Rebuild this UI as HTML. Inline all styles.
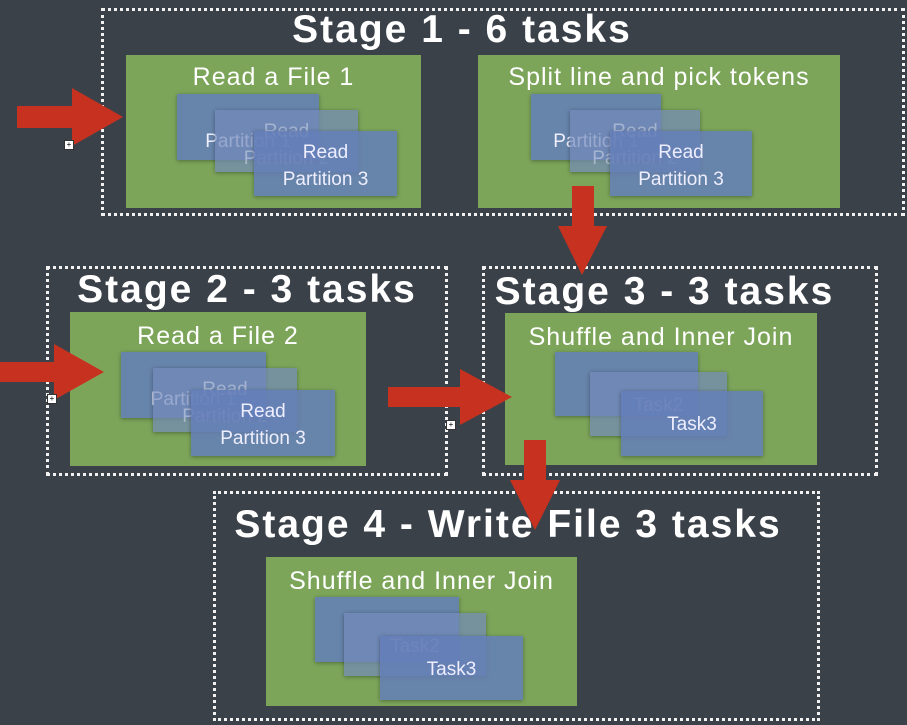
<!DOCTYPE html>
<html><head><meta charset="utf-8"><style>
html,body{margin:0;padding:0;}
body{width:907px;height:725px;overflow:hidden;background:#3b4149;position:relative;font-family:"Comic Sans MS","Liberation Sans",sans-serif;}
.abs{position:absolute;}
.stage{position:absolute;border:3px dotted #f2f2f2;box-sizing:border-box;}
.title{position:absolute;color:#fff;font-size:39px;font-weight:bold;text-align:center;white-space:nowrap;letter-spacing:2px;}
.panel{position:absolute;background:#7ca55a;}
.ptitle{position:absolute;left:0;right:0;text-align:center;color:#fff;font-size:25px;white-space:nowrap;letter-spacing:1px;}
.card{position:absolute;background:rgba(100,126,185,0.85);color:#eef;font-size:19px;text-align:center;box-shadow:0 1px 4px rgba(0,0,0,0.35);line-height:27px;box-sizing:border-box;padding-top:8px;}
.card.f{background:rgba(115,138,185,0.7);color:rgba(230,235,245,0.45);}
.plus{position:absolute;width:8px;height:8px;background:#fff;border:1px solid #333;font-size:8px;line-height:8px;text-align:center;color:#000;}
</style></head><body>
<div class="stage" style="left:101px;top:8px;width:804px;height:208px;"></div>
<div class="title" style="left:101px;width:722px;top:8px;">Stage 1 - 6 tasks</div>
<div class="panel" style="left:126px;top:55px;width:295px;height:153px;">
<div class="ptitle" style="top:8px;">Read a File 1</div>
<div class="card" style="left:51px;top:39px;width:142px;height:66px;padding-top:34px;">Partition 1</div>
<div class="card f" style="left:89px;top:55px;width:143px;height:62px;">Read<br>Partition 2</div>
<div class="card" style="left:128px;top:76px;width:143px;height:65px;">Read<br>Partition 3</div>
</div>
<div class="panel" style="left:478px;top:55px;width:362px;height:153px;">
<div class="ptitle" style="top:8px;">Split line and pick tokens</div>
<div class="card" style="left:53px;top:39px;width:130px;height:66px;padding-top:34px;">Partition 1</div>
<div class="card f" style="left:92px;top:55px;width:130px;height:62px;">Read<br>Partition 2</div>
<div class="card" style="left:132px;top:76px;width:142px;height:65px;">Read<br>Partition 3</div>
</div>

<div class="stage" style="left:46px;top:266px;width:402px;height:210px;"></div>
<div class="title" style="left:46px;width:402px;top:268px;">Stage 2 - 3 tasks</div>
<div class="panel" style="left:70px;top:312px;width:296px;height:154px;">
<div class="ptitle" style="top:10px;">Read a File 2</div>
<div class="card" style="left:51px;top:40px;width:145px;height:66px;padding-top:34px;">Partition 1</div>
<div class="card f" style="left:83px;top:56px;width:144px;height:64px;">Read<br>Partition 2</div>
<div class="card" style="left:121px;top:78px;width:144px;height:66px;">Read<br>Partition 3</div>
</div>

<div class="stage" style="left:482px;top:266px;width:396px;height:210px;"></div>
<div class="title" style="left:482px;width:365px;top:270px;">Stage 3 - 3 tasks</div>
<div class="panel" style="left:505px;top:313px;width:312px;height:152px;">
<div class="ptitle" style="top:10px;">Shuffle and Inner Join</div>
<div class="card" style="left:50px;top:39px;width:143px;height:64px;"></div>
<div class="card f" style="left:85px;top:59px;width:137px;height:64px;padding-top:20px;">Task2</div>
<div class="card" style="left:116px;top:78px;width:142px;height:65px;padding-top:20px;">Task3</div>
</div>

<div class="stage" style="left:213px;top:491px;width:607px;height:230px;"></div>
<div class="title" style="left:213px;width:590px;top:503px;">Stage 4 - Write File 3 tasks</div>
<div class="panel" style="left:266px;top:557px;width:311px;height:149px;">
<div class="ptitle" style="top:10px;">Shuffle and Inner Join</div>
<div class="card" style="left:49px;top:40px;width:144px;height:65px;"></div>
<div class="card f" style="left:78px;top:56px;width:142px;height:63px;padding-top:20px;">Task2</div>
<div class="card" style="left:114px;top:79px;width:143px;height:64px;padding-top:20px;">Task3</div>
</div>

<svg class="abs" style="left:0;top:0" width="907" height="725">
<g fill="#c6321f">
<polygon points="17,106 72,106 72,88 123,117 72,146 72,128 17,128"/>
<polygon points="572,186 594,186 594,226 607,226 582,275 558,226 572,226"/>
<polygon points="0,362 54,362 54,344 104,372 54,400 54,382 0,382"/>
<polygon points="388,387 460,387 460,369 512,397 460,425 460,407 388,407"/>
<polygon points="524,440 546,440 546,480 560,480 535,530 510,480 524,480"/>
</g>
</svg>
<div class="plus" style="left:64px;top:140px;">+</div>
<div class="plus" style="left:47px;top:394px;">+</div>
<div class="plus" style="left:446px;top:420px;">+</div>
</body></html>
